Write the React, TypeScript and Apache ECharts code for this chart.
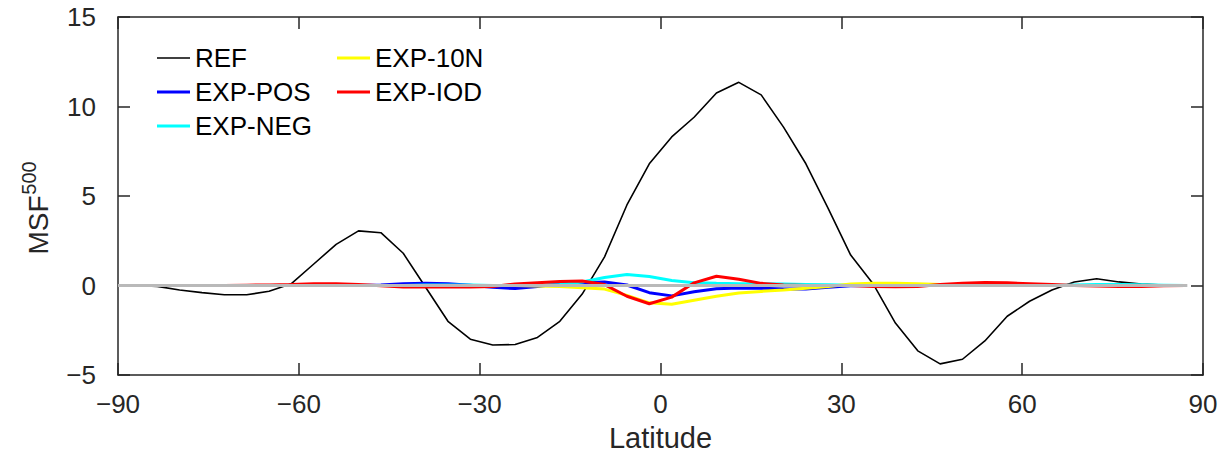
import React, { useEffect, useRef } from "react";
import * as echarts from "echarts";

const lat = [-87.16,-83.48,-79.78,-76.07,-72.36,-68.65,-64.94,-61.23,-57.52,-53.81,-50.10,-46.39,-42.68,-38.97,-35.26,-31.55,-27.83,-24.12,-20.41,-16.70,-12.99,-9.28,-5.57,-1.86,1.86,5.57,9.28,12.99,16.70,20.41,24.12,27.83,31.55,35.26,38.97,42.68,46.39,50.10,53.81,57.52,61.23,64.94,68.65,72.36,76.07,79.78,83.48,87.16];

const ref = [0.0,-0.05,-0.25,-0.4,-0.52,-0.52,-0.32,0.1,1.2,2.3,3.05,2.95,1.8,-0.1,-2.0,-3.0,-3.32,-3.3,-2.9,-2.0,-0.48,1.6,4.5,6.8,8.3,9.4,10.75,11.35,10.65,8.85,6.8,4.3,1.7,0.1,-2.1,-3.65,-4.38,-4.12,-3.1,-1.72,-0.88,-0.25,0.2,0.38,0.2,0.08,0.02,0.0];
const expPos = [0,0,0,0,0,0,0,0,0,0,0,0.03,0.1,0.12,0.1,0.02,-0.1,-0.17,-0.05,0.1,0.15,0.2,0.03,-0.4,-0.58,-0.35,-0.18,-0.14,-0.15,-0.2,-0.2,-0.1,-0.02,0,0,0,0,0,0,0,0,0,0,0,0,0,0,0];
const expNeg = [0,0,0,0,0,0,0,0,0,0,0,0,0,0.03,0.03,0.03,0,0,0.02,0.05,0.2,0.45,0.62,0.5,0.28,0.16,0.12,0.1,0.1,0.08,0.06,0.04,0.02,0,0,0,0,0,0,0,0,0,0.03,0.05,0.05,0.04,0.02,0];
const exp10N = [0,0,0,0,0,0,0,0,0,0,0,0,0,0,0,0,0,0,-0.03,-0.06,-0.12,-0.2,-0.55,-0.97,-1.05,-0.82,-0.6,-0.42,-0.33,-0.25,-0.15,-0.05,0.08,0.13,0.12,0.1,0.05,0,0,0,0,0,0,0,0,0,0,0];
const expIod = [0,0,0,0,0,0.02,0.03,0.05,0.1,0.1,0.05,-0.02,-0.08,-0.08,-0.08,-0.08,-0.05,0.08,0.15,0.22,0.25,0.05,-0.6,-1.02,-0.65,0.15,0.52,0.35,0.12,0.03,0,0,0,-0.05,-0.07,-0.05,0.05,0.12,0.17,0.15,0.1,0.05,0,-0.03,-0.05,-0.05,-0.02,0];
const zeroLine = [[-90, 0], [87.4, 0]];

const xTicks = { min: -90, max: 90, interval: 30 };
const yTicks = { min: -5, max: 15, interval: 5 };

const FONT = 'Arial, "Liberation Sans", sans-serif';
const AX = "#262626";

const pair = (ys: number[]) => lat.map((x, i) => [x, ys[i]]);
const fmt = (v: number) => (v < 0 ? "\u2212" + Math.abs(v) : String(v));

export default function App() {
  const ref1 = useRef<HTMLDivElement>(null);
  useEffect(() => {
    const chart = echarts.init(ref1.current!, null, { renderer: "svg" });
    const lineSeries = (name: string, data: number[], color: string, width: number) => ({
      name,
      type: "line",
      data: pair(data),
      symbol: "none",
      showSymbol: false,
      xAxisIndex: 0,
      yAxisIndex: 0,
      lineStyle: { color, width },
      itemStyle: { color },
    });
    const axisCommon = {
      axisLine: { show: true, onZero: false, lineStyle: { color: AX, width: 1.5 } },
      axisTick: { show: true, inside: true, length: 12, lineStyle: { color: AX, width: 1.5 } },
      splitLine: { show: false },
    };
    const legendText = { fontSize: 26, fontFamily: FONT, color: "#000", lineHeight: 30 };
    const thin = "path://M0,0h33v1.6h-33z";
    const thick = "path://M0,0h33v3h-33z";
    const item = (name: string, icon: string, color: string) => ({ name, icon, itemStyle: { color } });
    chart.setOption({
      animation: false,
      grid: { left: 118, right: 22, top: 17, bottom: 88 },
      xAxis: [
        {
          type: "value", ...xTicks, position: "bottom", ...axisCommon,
          axisLabel: { fontSize: 26, fontFamily: FONT, color: AX, margin: 16, formatter: fmt },
          name: "Latitude", nameLocation: "middle", nameGap: 48,
          nameTextStyle: { fontSize: 29, fontFamily: FONT, color: AX },
        },
        { type: "value", ...xTicks, position: "top", ...axisCommon, axisLabel: { show: false } },
      ],
      yAxis: [
        {
          type: "value", ...yTicks, position: "left", ...axisCommon,
          axisLabel: { fontSize: 26, fontFamily: FONT, color: AX, margin: 22, formatter: fmt },
        },
        { type: "value", ...yTicks, position: "right", ...axisCommon, axisLabel: { show: false } },
      ],
      legend: [
        {
          data: [item("REF", thin, "#000000"), item("EXP-POS", thick, "#0000ff"), item("EXP-NEG", thick, "#00ffff")],
          orient: "vertical", left: 157, top: 43, symbolKeepAspect: true,
          padding: 0, itemGap: 4, itemWidth: 33, itemHeight: 14, textStyle: legendText,
        },
        {
          data: [item("EXP-10N", thick, "#ffff00"), item("EXP-IOD", thick, "#ff0000")],
          orient: "vertical", left: 337, top: 43, symbolKeepAspect: true,
          padding: 0, itemGap: 4, itemWidth: 33, itemHeight: 14, textStyle: legendText,
        },
      ],
      graphic: [
        {
          type: "text", x: 38, y: 225, rotation: Math.PI / 2,
          style: { text: "MSF", fontSize: 28, fontFamily: FONT, fill: AX, align: "center", verticalAlign: "middle" },
        },
        {
          type: "text", x: 29, y: 178, rotation: Math.PI / 2,
          style: { text: "500", fontSize: 20, fontFamily: FONT, fill: AX, align: "center", verticalAlign: "middle" },
        },
      ],
      series: [
        lineSeries("REF", ref, "#000000", 1.6),
        lineSeries("EXP-POS", expPos, "#0000ff", 3),
        lineSeries("EXP-NEG", expNeg, "#00ffff", 3),
        lineSeries("EXP-10N", exp10N, "#ffff00", 3),
        lineSeries("EXP-IOD", expIod, "#ff0000", 3),
        {
          name: "zero", type: "line", data: zeroLine, symbol: "none",
          lineStyle: { color: "#b9b9b9", width: 3 }, itemStyle: { color: "#b9b9b9" },
        },
      ],
    });
    return () => chart.dispose();
  }, []);
  return (
    <div
      ref={ref1}
      style={{ position: "fixed", left: 0, top: 0, width: 1225, height: 463, background: "#fff" }}
    />
  );
}
